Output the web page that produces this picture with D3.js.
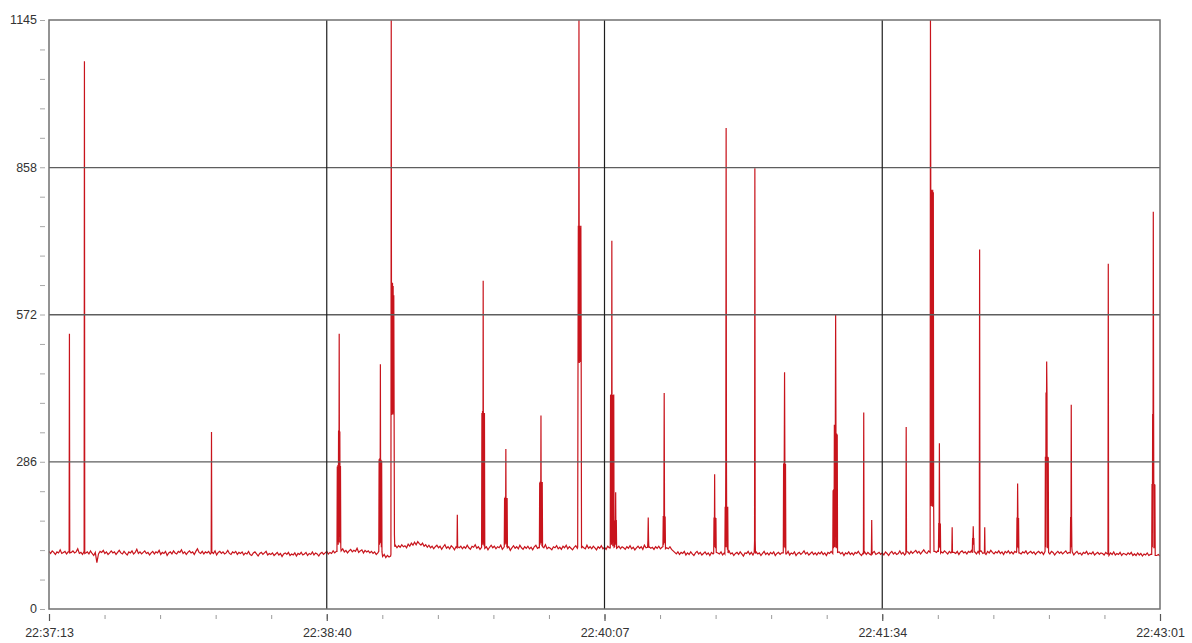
<!DOCTYPE html>
<html>
<head>
<meta charset="utf-8">
<script src="https://cdn.jsdelivr.net/npm/d3@7"></script>
<style>
  html, body { margin: 0; padding: 0; background: #fff; }
  svg { display: block; }
  text { font-family: "Liberation Sans", Arial, sans-serif; }
</style>
</head>
<body>
<svg id="chart" width="1192" height="643"></svg>
<script>
// Axis labels
const xTickLabels = ["22:37:13", "22:38:40", "22:40:07", "22:41:34", "22:43:01"];
const yTickLabels = [0, 286, 572, 858, 1145];
const yMax = 1145;

// Background level, one sample every 0.5 s from 22:37:13
const baseStep = 0.5;
const baselineValues = [
  112,108,113,110,106,111,109,115,108,110,112,107,111,105,110,113,109,111,117,108,
  110,106,112,109,111,107,113,108,104,110,90,107,112,110,114,108,111,106,109,113,
  109,111,106,110,114,109,107,112,108,105,111,109,113,107,110,116,108,111,107,110,
  113,108,110,105,109,112,107,111,109,114,106,110,108,112,104,109,111,107,113,109,
  107,112,110,115,108,111,106,110,113,109,111,106,112,117,110,108,112,107,111,109,
  112,107,110,108,113,105,110,112,108,111,107,109,114,108,106,111,109,112,106,110,
  108,111,105,109,107,112,106,104,109,111,107,103,108,110,106,109,112,105,108,106,
  109,104,107,110,105,108,102,107,109,106,110,104,107,105,109,103,108,106,110,105,
  107,110,104,108,106,111,105,109,107,103,108,110,106,109,112,107,110,108,113,109,
  112,115,110,113,117,111,114,109,113,116,111,114,112,118,110,113,115,109,114,111,
  113,109,112,108,111,106,109,104,107,102,106,100,104,101,103,122,118,124,119,123,
  120,125,121,123,119,126,122,128,124,130,125,131,127,124,128,122,125,120,124,119,
  122,117,121,124,119,122,116,121,125,118,121,117,123,120,115,121,124,119,122,117,
  121,118,124,119,116,122,120,125,118,121,116,120,123,118,121,115,120,124,119,122,
  117,121,119,124,116,120,122,117,121,114,119,123,118,121,117,124,119,116,121,118,
  122,117,120,115,121,124,118,120,116,122,119,125,117,120,118,115,121,119,123,117,
  120,116,122,119,124,117,121,118,115,120,123,118,121,116,122,119,117,124,118,121,
  117,122,119,115,121,118,123,117,120,116,122,119,124,117,120,115,119,122,117,121,
  119,116,121,118,123,117,120,115,119,122,118,121,116,124,119,117,121,118,120,116,
  121,118,122,117,120,116,122,119,117,121,116,113,110,107,111,106,110,108,112,105,
  109,106,111,107,104,109,112,107,110,105,108,111,106,109,104,110,107,112,106,109,
  107,111,105,109,106,110,113,107,109,104,108,110,106,111,107,103,109,108,112,106,
  110,105,108,111,107,109,104,108,112,106,109,105,110,107,111,104,108,110,106,109,
  106,110,107,112,105,109,107,111,104,108,110,106,109,113,107,110,105,108,111,106,
  109,105,110,107,111,106,109,104,110,108,112,106,109,105,108,111,107,110,104,109,
  107,111,106,109,105,110,108,112,107,104,109,111,106,110,107,105,109,112,106,108,
  110,106,109,105,111,108,104,109,112,107,110,106,108,113,107,110,105,109,111,107,
  112,108,111,114,109,112,107,111,115,110,108,113,109,111,106,112,110,114,108,111,
  109,113,110,107,112,109,115,110,108,112,106,111,113,109,111,107,112,110,114,108,
  111,107,112,109,113,108,110,106,112,109,114,110,107,111,109,113,108,111,106,112,
  109,113,108,111,107,112,110,115,109,107,111,109,113,107,110,112,108,111,106,110,
  112,108,111,106,110,113,109,107,112,110,105,109,112,108,111,107,110,113,108,110,
  107,110,105,109,112,107,109,105,110,108,112,106,109,107,111,105,108,110,106,109,
  108,105,110,107,104,109,106,111,105,108,106,110,104,108,107,105,109,106,110,104,
  107,104,109,105,108,103,107,105,109,104,106,108,103,107,104,106,103
];

// Bursts: start time (s after 22:37:13) and the samples recorded every 0.1 s
const burstStep = 0.1;
const burstTimes = [
  6.3, 11.0, 50.8, 90.2, 103.3, 107.1, 127.8, 135.5, 142.6, 153.6,
  165.6, 175.8, 177.2, 187.5, 192.3, 208.2, 211.7, 220.9, 230.0, 245.5,
  255.1, 257.6, 268.4, 276.0, 278.6, 282.8, 289.2, 291.4, 293.0, 303.1,
  312.0, 319.9, 331.7, 345.4
];
const burstValues = [
  [111,535,109],
  [112,1065,108],
  [109,344,111],
  [112,277,130,280,125,347,130,535,140,345,128,278,120,113],
  [112,291,125,293,130,476,128,290,120,288,111],
  [106,1145,377,597,380,634,378,628,382,610,377,144,121],
  [119,183,121],
  [120,381,130,385,125,638,128,380,122,381,118],
  [121,216,125,218,130,311,127,215,120,216,119],
  [118,246,125,248,130,376,128,245,122,247,121],
  [120,478,745,480,1145,478,745,482,740,480,745,478,118],
  [119,416,130,418,125,716,128,416,122,415,130,417,120],
  [121,172,130,227,125,173,118],
  [120,134,178,134,119],
  [121,181,125,182,420,181,128,180,117],
  [108,178,120,262,125,178,118,177,110],
  [107,199,120,293,935,293,120,198,115,199,109],
  [110,132,857,132,108],
  [109,283,120,285,460,283,118,282,107],
  [108,231,118,233,120,358,341,120,340,572,342,118,341,120,339,110],
  [107,382,109],
  [110,173,106],
  [108,354,111],
  [110,1145,815,200,815,205,812,199,815,200,810,200,112],
  [111,167,120,322,167,118,166,109],
  [112,159,110],
  [109,138,125,161,130,138,111],
  [108,699,112],
  [110,159,108],
  [111,178,120,244,178,118,177,109],
  [112,296,120,421,296,481,421,118,296,120,295,110],
  [109,179,120,397,179,118,111],
  [108,671,110],
  [106,243,120,379,243,772,379,118,243,120,242,104]
];

const svg = d3.select("#chart");
const W = 1192, H = 643;
const margin = { left: 49, right: 32, top: 20, bottom: 34 };
const plotL = margin.left, plotR = W - margin.right, plotT = margin.top, plotB = H - margin.bottom;

svg.append("rect").attr("width", W).attr("height", H).attr("fill", "#fff");

const parseT = d3.timeParse("%H:%M:%S");
const xTicks = xTickLabels.map(parseT);
const t0 = xTicks[0];
const x = d3.scaleTime().domain([t0, xTicks[xTicks.length - 1]]).range([plotL, plotR]);
const y = d3.scaleLinear().domain([0, yMax]).range([plotB, plotT]);
const at = s => new Date(t0.getTime() + s * 1000);

// Merge background samples with burst samples into one time-ordered series
const windows = burstTimes.map((t, i) => [t - 0.05, t + (burstValues[i].length - 1) * burstStep + 0.05]);
const series = [];
baselineValues.forEach((v, i) => {
  const s = i * baseStep;
  if (!windows.some(w => s >= w[0] && s <= w[1])) series.push({ s, v });
});
burstTimes.forEach((t, i) => {
  burstValues[i].forEach((v, k) => series.push({ s: t + k * burstStep, v }));
});
series.sort((a, b) => a.s - b.s);

// Minor ticks: five steps between labelled ticks
const xSpan = (xTicks[1] - xTicks[0]) / 1000;
const xMinor = d3.range(0, 21).map(i => at(i * xSpan / 5));
const yMinor = d3.range(0, 21).map(i => i * yMax / 20);

// Y axis ticks and labels
const yAxis = d3.axisLeft(y).tickValues(yMinor).tickSize(5).tickFormat("");
svg.append("g").attr("transform", `translate(${plotL - 4},0)`).call(yAxis)
  .call(g => g.select(".domain").remove())
  .call(g => g.selectAll("line").attr("stroke", "#a8a8a8").attr("stroke-width", 1));

svg.append("g").selectAll("text").data(yTickLabels).join("text")
  .attr("x", 37).attr("y", d => y(d)).attr("dy", "0.35em")
  .attr("text-anchor", "end").attr("font-size", 12.5).attr("fill", "#333")
  .text(d => d);

// X axis ticks and labels
const xAxisMinor = d3.axisBottom(x).tickValues(xMinor).tickSize(4).tickFormat("");
svg.append("g").attr("transform", `translate(0,${plotB + 6})`).call(xAxisMinor)
  .call(g => g.select(".domain").remove())
  .call(g => g.selectAll("line").attr("stroke", "#9a9a9a").attr("stroke-width", 1));
const xAxisMajor = d3.axisBottom(x).tickValues(xTicks).tickSize(7).tickPadding(7)
  .tickFormat(d3.timeFormat("%H:%M:%S"));
svg.append("g").attr("transform", `translate(0,${plotB + 5})`).call(xAxisMajor)
  .call(g => g.select(".domain").remove())
  .call(g => g.selectAll("line").attr("stroke", "#555").attr("stroke-width", 1.2))
  .call(g => g.selectAll("text").attr("font-size", 12.5).attr("fill", "#333")
    .attr("font-family", "'Liberation Sans', Arial, sans-serif"));

// Signal trace
svg.append("clipPath").attr("id", "plotClip")
  .append("rect").attr("x", plotL).attr("y", plotT).attr("width", plotR - plotL).attr("height", plotB - plotT);

const line = d3.line().x(d => x(at(d.s))).y(d => y(d.v));
svg.append("path").datum(series)
  .attr("clip-path", "url(#plotClip)")
  .attr("fill", "none").attr("stroke", "#c8141c").attr("stroke-width", 1.2)
  .attr("stroke-linejoin", "miter").attr("d", line);

// Grid over the trace
const grid = svg.append("g");
grid.selectAll("line.h").data(yTickLabels.slice(1, -1)).join("line")
  .attr("x1", plotL).attr("x2", plotR)
  .attr("y1", d => y(d)).attr("y2", d => y(d))
  .attr("stroke", "#5e5e5e").attr("stroke-width", 1.4);
grid.selectAll("line.v").data(xTicks.slice(1, -1)).join("line")
  .attr("x1", d => x(d)).attr("x2", d => x(d))
  .attr("y1", plotT).attr("y2", plotB)
  .attr("stroke", "#1e1e1e").attr("stroke-width", 1.2);

// Plot frame
svg.append("rect")
  .attr("x", plotL).attr("y", plotT).attr("width", plotR - plotL).attr("height", plotB - plotT)
  .attr("fill", "none").attr("stroke", "#707070").attr("stroke-width", 1.5);
</script>
</body>
</html>
